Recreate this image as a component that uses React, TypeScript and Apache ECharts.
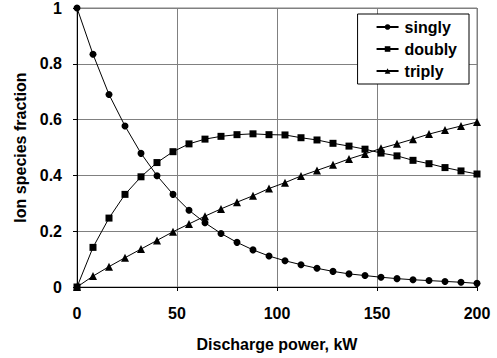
import React, { useEffect, useRef } from "react";
import * as echarts from "echarts";

// Discharge power, kW
const power = [0, 8, 16, 24, 32, 40, 48, 56, 64, 72, 80, 88, 96, 104, 112, 120, 128, 136, 144, 152, 160, 168, 176, 184, 192, 200];

const singly = [1.0, 0.834, 0.69, 0.577, 0.479, 0.399, 0.332, 0.275, 0.23, 0.192, 0.16, 0.133, 0.111, 0.094, 0.08, 0.067, 0.056, 0.047, 0.041, 0.035, 0.03, 0.026, 0.023, 0.02, 0.017, 0.013];
const doubly = [0.0, 0.142, 0.247, 0.332, 0.395, 0.446, 0.485, 0.513, 0.53, 0.54, 0.546, 0.549, 0.546, 0.545, 0.535, 0.527, 0.515, 0.505, 0.494, 0.48, 0.47, 0.454, 0.442, 0.428, 0.416, 0.405];
const triply = [0.0, 0.039, 0.073, 0.105, 0.136, 0.167, 0.198, 0.226, 0.254, 0.28, 0.304, 0.327, 0.353, 0.374, 0.398, 0.418, 0.438, 0.459, 0.477, 0.497, 0.513, 0.53, 0.548, 0.563, 0.577, 0.591];

const FONT = "Liberation Sans, Arial, sans-serif";

export default function App() {
  const ref = useRef<HTMLDivElement>(null);

  useEffect(() => {
    if (!ref.current) return;
    const chart = echarts.init(ref.current, null, { renderer: "svg" });
    const mk = (name: string, vals: number[], symbol: string, size: number) => ({
      name,
      type: "line",
      data: power.map((p, i) => [p, vals[i]]),
      symbol,
      symbolSize: size,
      lineStyle: { color: "#000", width: 1 },
      itemStyle: { color: "#000" },
      z: 5,
    });
    const bold = { fontFamily: FONT, fontWeight: "bold", fontSize: 16, color: "#000" };
    chart.setOption({
      animation: false,
      backgroundColor: "#fff",
      textStyle: { fontFamily: FONT },
      grid: { left: 77, right: 20, top: 8, bottom: 71, show: true, borderColor: "#808080", borderWidth: 1 },
      legend: {
        right: 28,
        top: 14,
        orient: "vertical",
        backgroundColor: "#fff",
        borderColor: "#000",
        borderWidth: 1,
        padding: [5, 12, 5, 18],
        itemGap: 6,
        itemWidth: 22,
        itemHeight: 7,
        textStyle: { ...bold, padding: [0, 0, 0, 1] },
        data: ["singly", "doubly", "triply"],
      },
      xAxis: {
        type: "value",
        min: 0,
        max: 200,
        interval: 50,
        name: "Discharge power, kW",
        nameLocation: "middle",
        nameGap: 49,
        nameTextStyle: bold,
        axisLine: { lineStyle: { color: "#000" } },
        axisTick: { show: true, inside: false, length: 4, lineStyle: { color: "#000" } },
        axisLabel: { ...bold, margin: 18 },
        splitLine: { show: true, lineStyle: { color: "#808080", width: 1 } },
      },
      yAxis: {
        type: "value",
        min: 0,
        max: 1,
        interval: 0.2,
        name: "Ion species fraction",
        nameLocation: "middle",
        nameGap: 49,
        nameTextStyle: bold,
        axisLine: { show: true, lineStyle: { color: "#000" } },
        axisTick: { show: true, inside: false, length: 4, lineStyle: { color: "#000" } },
        axisLabel: { ...bold, margin: 15 },
        splitLine: { show: true, lineStyle: { color: "#808080", width: 1 } },
      },
      series: [
        mk("singly", singly, "circle", 7),
        mk("doubly", doubly, "rect", 7),
        mk("triply", triply, "triangle", 8),
      ],
    });
    return () => chart.dispose();
  }, []);

  return <div ref={ref} style={{ width: 497, height: 358, position: "absolute", left: 0, top: 0 }} />;
}
